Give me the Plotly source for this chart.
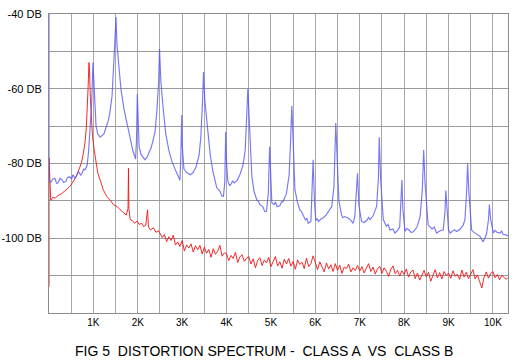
import plotly.graph_objects as go

# ---- data (frequency in kHz, level in dB) ----
blue_khz = [0.0, 0.0, 0.045, 0.09, 0.135, 0.17, 0.20, 0.25, 0.29, 0.33, 0.38, 0.42, 0.47, 0.51, 0.54, 0.58,
            0.61, 0.65, 0.68, 0.71, 0.74, 0.78, 0.81, 0.86, 0.89, 0.92, 0.96, 0.99,
            1.025, 1.06, 1.10, 1.15, 1.19, 1.24, 1.28, 1.33, 1.37, 1.42, 1.46, 1.50, 1.51, 1.53, 1.58,
            1.62, 1.69, 1.76, 1.82, 1.89, 1.95, 1.97, 1.99, 2.005, 2.03, 2.07, 2.12, 2.16, 2.21, 2.25,
            2.30, 2.34, 2.39, 2.43, 2.47, 2.49, 2.52, 2.57, 2.63, 2.70, 2.77, 2.84, 2.91, 2.95, 2.97,
            2.99, 3.00, 3.04, 3.11, 3.18, 3.24, 3.31, 3.38, 3.42, 3.46, 3.48, 3.51, 3.56, 3.63, 3.69,
            3.74, 3.78, 3.85, 3.89, 3.93, 3.96, 3.98, 4.00, 4.03, 4.07, 4.10, 4.14, 4.17, 4.24, 4.30, 4.37,
            4.42, 4.45, 4.48, 4.51, 4.57, 4.62, 4.68, 4.72, 4.75, 4.82, 4.86, 4.90, 4.94, 4.97, 4.99,
            5.02, 5.07, 5.10, 5.14, 5.20, 5.24, 5.27, 5.35, 5.41, 5.44, 5.47, 5.50, 5.54, 5.60, 5.65,
            5.69, 5.72, 5.78, 5.81, 5.84, 5.90, 5.93, 5.95, 5.98, 6.01, 6.04, 6.07, 6.13, 6.18, 6.24,
            6.31, 6.37, 6.42, 6.46, 6.49, 6.53, 6.59, 6.62, 6.66, 6.74, 6.80, 6.85, 6.89, 6.93, 6.95,
            6.98, 7.04, 7.10, 7.16, 7.20, 7.23, 7.30, 7.38, 7.42, 7.44, 7.47, 7.53, 7.60, 7.64, 7.68,
            7.75, 7.79, 7.83, 7.90, 7.93, 7.95, 7.97, 8.02, 8.06, 8.11, 8.16, 8.21, 8.29, 8.36, 8.41,
            8.44, 8.47, 8.54, 8.63, 8.68, 8.73, 8.81, 8.88, 8.92, 8.94, 8.97, 9.00, 9.04, 9.08, 9.13,
            9.18, 9.26, 9.33, 9.37, 9.41, 9.43, 9.46, 9.52, 9.56, 9.60, 9.67, 9.71, 9.75, 9.78, 9.82,
            9.86, 9.90, 9.92, 9.95, 10.01, 10.05, 10.09, 10.16, 10.20, 10.23, 10.30, 10.34]
blue_db = [-40.0, -84.5, -85.0, -84.1, -84.0, -85.3, -85.2, -84.0, -84.3, -85.1, -84.8, -83.7, -83.6, -84.2, -83.0, -83.9,
           -83.5, -82.3, -82.4, -83.1, -82.8, -81.5, -81.7, -80.5, -77.0, -72.0, -64.0, -53.0,
           -62.0, -70.0, -72.2, -72.9, -72.6, -72.0, -70.5, -68.8, -66.5, -62.0, -53.0, -41.0, -40.8, -48.0, -55.5,
           -60.0, -65.5, -69.2, -72.5, -76.6, -78.8, -74.0, -61.5, -67.0, -75.5, -77.5, -78.5, -79.0, -78.3, -77.2,
           -75.8, -74.0, -71.5, -66.0, -58.0, -49.4, -58.0, -65.0, -72.0, -76.5, -79.5, -81.5, -83.5, -84.5, -78.0,
           -67.0, -75.0, -81.5, -82.5, -83.0, -82.5, -81.0, -77.8, -73.0, -63.0, -55.5, -63.0, -70.0, -77.5, -82.0,
           -84.6, -86.5, -87.4, -88.6, -88.8, -85.0, -71.5, -80.0, -84.8, -85.9, -85.5, -84.6, -85.2, -84.5, -83.0, -80.5,
           -76.4, -68.0, -60.0, -68.0, -83.5, -87.5, -89.7, -90.2, -91.0, -91.6, -92.9, -92.8, -88.0, -75.5, -84.0,
           -90.5, -91.0, -90.3, -91.6, -91.3, -90.2, -90.3, -88.0, -83.0, -74.5, -64.6, -74.0, -87.0, -90.5, -92.4,
           -92.9, -93.8, -95.2, -94.6, -96.0, -95.5, -88.0, -79.0, -90.0, -95.3, -94.7, -95.5, -94.8, -94.5, -93.8,
           -92.6, -91.5, -86.0, -69.2, -78.0, -90.0, -93.7, -94.5, -94.2, -94.6, -95.2, -96.0, -94.0, -88.0, -82.6,
           -91.0, -95.5, -95.8, -95.2, -94.4, -95.0, -94.0, -91.5, -84.0, -73.0, -84.0, -95.0, -96.8, -96.3, -97.8,
           -97.5, -98.6, -98.2, -97.0, -90.0, -84.4, -92.0, -98.2, -97.4, -97.8, -98.5, -98.2, -97.0, -94.2, -87.0,
           -76.4, -85.0, -96.4, -97.5, -97.0, -98.6, -98.0, -97.8, -93.0, -87.2, -94.0, -97.8, -98.6, -98.3, -97.7,
           -98.2, -97.6, -96.5, -95.0, -87.0, -80.0, -88.0, -97.8, -98.3, -98.6, -99.2, -99.5, -100.4, -100.9, -100.0,
           -98.6, -95.0, -91.0, -95.0, -98.6, -97.9, -98.4, -98.6, -98.1, -99.0, -99.1, -99.4]

red_khz = [0.0, 0.0, 0.04, 0.09, 0.14, 0.20, 0.27, 0.34, 0.41, 0.48, 0.54, 0.59, 0.64, 0.69, 0.73, 0.77,
           0.81, 0.84, 0.86, 0.88, 0.90, 0.91, 0.93, 0.95, 0.98, 1.02, 1.06, 1.10, 1.17, 1.22, 1.30, 1.38,
           1.45, 1.53, 1.60, 1.67, 1.74, 1.78, 1.79, 1.80, 1.83, 1.88, 1.93, 1.98, 2.03, 2.09, 2.13, 2.18,
           2.22, 2.24, 2.29, 2.35, 2.41, 2.47,
           2.50, 2.55, 2.60, 2.65, 2.70, 2.75, 2.80, 2.85, 2.90, 2.95,
           3.00, 3.05, 3.10, 3.15, 3.20, 3.25, 3.30, 3.35, 3.40, 3.45,
           3.50, 3.55, 3.60, 3.65, 3.70, 3.75, 3.80, 3.85, 3.90, 3.95,
           4.00, 4.05, 4.10, 4.15, 4.20, 4.25, 4.30, 4.35, 4.40, 4.45,
           4.50, 4.55, 4.60, 4.65, 4.70, 4.75, 4.80, 4.85, 4.90, 4.95,
           5.00, 5.05, 5.10, 5.15, 5.20, 5.25, 5.30, 5.35, 5.40, 5.45,
           5.50, 5.55, 5.60, 5.65, 5.70, 5.75, 5.80, 5.85, 5.90, 5.95,
           6.00, 6.05, 6.10, 6.15, 6.20, 6.25, 6.30, 6.35, 6.40, 6.45,
           6.50, 6.55, 6.60, 6.65, 6.70, 6.75, 6.80, 6.85, 6.90, 6.95,
           7.00, 7.05, 7.10, 7.15, 7.20, 7.25, 7.30, 7.35, 7.40, 7.45,
           7.50, 7.55, 7.60, 7.65, 7.70, 7.75, 7.80, 7.85, 7.90, 7.95,
           8.00, 8.05, 8.10, 8.15, 8.20, 8.25, 8.30, 8.35, 8.40, 8.45,
           8.50, 8.55, 8.60, 8.65, 8.70, 8.75, 8.80, 8.85, 8.90, 8.95,
           9.00, 9.05, 9.10, 9.15, 9.20, 9.25, 9.30, 9.35, 9.40, 9.45,
           9.50, 9.55, 9.60, 9.65, 9.70, 9.75, 9.80, 9.85, 9.90, 9.95,
           10.00, 10.05, 10.10, 10.15, 10.20, 10.25, 10.30, 10.34]
red_db = [-113.0, -78.5, -89.8, -89.0, -89.3, -88.6, -88.2, -87.6, -86.8, -86.0, -85.0, -84.0, -82.8, -81.4, -79.8, -77.5,
          -74.5, -70.5, -66.0, -60.0, -53.0, -54.0, -62.0, -68.5, -72.8, -76.5, -80.0, -82.6, -85.0, -87.0, -88.8, -89.8,
          -91.0, -91.5, -92.3, -93.0, -93.8, -92.0, -81.3, -92.0, -95.0, -95.3, -96.0, -95.4, -96.3, -96.0, -96.9, -96.5,
          -92.4, -97.0, -97.8, -97.2, -98.4, -98.0,
          -98.6, -99.8, -99.0, -100.9, -99.6, -100.6, -99.2, -101.8, -101.0, -102.2,
          -100.6, -103.4, -101.8, -102.6, -101.5, -103.7, -102.0, -103.1, -101.9, -104.2,
          -102.4, -104.0, -103.0, -105.1, -102.8, -104.3, -103.5, -101.9, -104.8, -103.9,
          -104.1, -106.0, -104.6, -105.4, -103.8, -106.5, -105.0, -104.4, -106.2, -105.3,
          -104.9, -106.9, -105.5, -107.9, -106.0, -105.2, -107.3, -105.8, -106.6, -105.1,
          -107.6, -106.1, -104.9, -107.4, -106.3, -108.0, -105.6, -106.9, -105.4, -107.5,
          -106.2, -108.3, -105.8, -107.0, -106.4, -108.1, -105.3, -107.6, -106.8, -104.7,
          -106.9, -108.4, -106.3, -107.8, -109.0, -106.6, -108.2, -107.1, -108.9, -106.8,
          -108.6, -107.2, -109.4, -107.7, -108.1, -106.9, -109.0, -107.9, -108.6, -107.3,
          -108.8, -107.6, -109.3, -108.0, -106.8, -108.9, -107.7, -109.6, -108.2, -107.5,
          -109.4, -107.9, -108.8, -110.2, -108.3, -107.4, -109.5, -108.6, -110.1, -108.7,
          -109.7, -108.2, -110.4, -109.0, -108.5, -110.8, -109.3, -111.2, -109.8, -108.6,
          -110.3, -109.1, -111.5, -109.7, -108.4, -110.6, -109.2, -110.9, -108.9, -110.0,
          -109.3, -110.7, -108.7, -110.2, -109.6, -111.0, -108.5, -110.4, -109.1, -110.8,
          -109.5, -108.4, -110.9, -109.8, -111.6, -113.3, -110.5, -109.0, -110.7, -109.4,
          -108.9, -110.6, -109.7, -111.1, -109.9, -110.4, -111.0, -110.5]

x_grid = [0.5 * i for i in range(1, 21)]
x_labels = ["" if i % 2 else f"{i // 2}K" for i in range(1, 21)]
y_grid = [-40, -50, -60, -70, -80, -90, -100, -110, -120]
y_labels = ["-40 DB", "", "-60 DB", "", "-80 DB", "", "-100 DB", "", ""]

title_text = "FIG 5  DISTORTION SPECTRUM -  CLASS A  VS  CLASS B"

fig = go.Figure()
fig.add_trace(go.Scatter(x=red_khz, y=red_db, mode="lines", cliponaxis=False,
                         line=dict(color="rgba(240,20,20,0.9)", width=1), hoverinfo="skip"))
fig.add_trace(go.Scatter(x=blue_khz, y=blue_db, mode="lines", cliponaxis=False,
                         line=dict(color="rgba(85,85,245,0.8)", width=1.15), hoverinfo="skip"))

font_family = "Arial, Liberation Sans, sans-serif"
fig.update_layout(
    width=520, height=362,
    margin=dict(l=49, r=12, t=14, b=49, autoexpand=False),
    paper_bgcolor="white", plot_bgcolor="white",
    showlegend=False,
    font=dict(family=font_family, color="black"),
    xaxis=dict(range=[0, 10.34], tickmode="array", tickvals=x_grid, ticktext=x_labels,
               showgrid=True, gridcolor="#a8a8a8", gridwidth=1, zeroline=False,
               showline=True, linecolor="#8c8c8c", linewidth=1, mirror=True, automargin=False,
               layer="below traces", ticks="", tickfont=dict(size=10, family=font_family)),
    yaxis=dict(range=[-120, -40], tickmode="array", tickvals=y_grid, ticktext=y_labels,
               showgrid=True, gridcolor="#9a9a9a", gridwidth=1, zeroline=False,
               showline=True, linecolor="#8c8c8c", linewidth=1, mirror=True, automargin=False,
               layer="below traces", ticks="", ticklabelstandoff=4,
               tickfont=dict(size=11, family=font_family)),
    annotations=[dict(text=title_text, xref="paper", yref="paper", x=0.468, y=-0.127,
                      xanchor="center", yanchor="middle", showarrow=False,
                      font=dict(size=14, family=font_family, color="black"))],
)

fig.write_html("out.html", config={"displayModeBar": False},
               post_script="document.body.style.margin='0';document.body.style.overflow='hidden';")
